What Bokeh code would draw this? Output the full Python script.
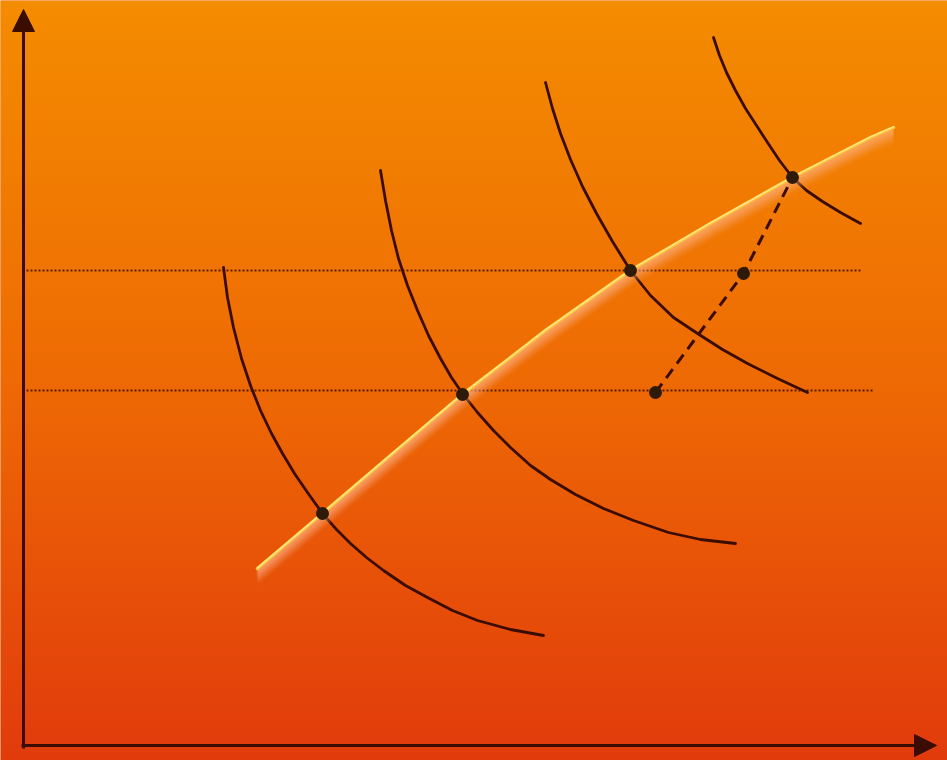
from bokeh.plotting import figure
from bokeh.models import Range1d, Arrow, NormalHead
from bokeh.embed import file_html
from bokeh.resources import INLINE

# ---- data (image units: x right, y down) ----
curve1_x = [223, 227, 233, 241, 250, 260, 271, 282, 294, 307, 322, 336, 350, 366, 383, 405, 427, 452, 477, 510, 543]
curve1_y = [267, 297, 327, 358, 385, 410, 433, 453, 473, 492, 513, 529, 543, 557, 570, 585, 597, 610, 620, 629, 635]
curve2_x = [380, 385, 391, 398, 407, 417, 428, 440, 451, 462, 477, 493, 510, 530, 550, 575, 603, 633, 668, 700, 735]
curve2_y = [170, 200, 230, 258, 285, 310, 335, 358, 377, 393, 412, 430, 447, 465, 479, 494, 508, 520, 532, 539, 543]
curve3_x = [545, 552, 560, 570, 582, 596, 612, 630, 650, 673, 697, 722, 747, 777, 807]
curve3_y = [82, 108, 133, 159, 186, 213, 241, 270, 295, 317, 333, 349, 363, 378, 392]
curve4_x = [713, 719, 726, 735, 745, 756, 767, 779, 792, 806, 822, 840, 860]
curve4_y = [37, 55, 72, 90, 108, 125, 142, 160, 177, 190, 201, 212, 223]
path_x = [257, 322, 390, 462, 545, 630, 710, 792, 870, 893]
path_y = [568, 513, 455, 394, 330, 270, 223, 177, 137, 127]
dash_x = [655, 743, 792]
dash_y = [392, 273, 177]
dot_x = [322, 462, 630, 792, 743, 655]
dot_y = [513, 394, 270, 177, 273, 392]
hline_y = [270, 390]
hline_x0 = [22, 22]
hline_x1 = [862, 872]

W, H = 947, 760

p = figure(width=947, height=760, x_range=Range1d(0, W), y_range=Range1d(H, 0),
           output_backend="svg", toolbar_location=None, min_border=0)
p.axis.visible = False
p.grid.visible = False
p.outline_line_color = None
p.background_fill_color = "#EC6404"
p.border_fill_color = "#EC6404"

# gradient background
stops = [(0.0, (0xF4, 0x8C, 0x00)), (0.5, (0xEE, 0x6A, 0x04)), (1.0, (0xE1, 0x3A, 0x0C))]
def col(t):
    for (t0, c0), (t1, c1) in zip(stops[:-1], stops[1:]):
        if t <= t1:
            f = (t - t0) / (t1 - t0)
            return "#%02x%02x%02x" % tuple(int(round(a + (b - a) * f)) for a, b in zip(c0, c1))
    return "#%02x%02x%02x" % stops[-1][1]
N = 95
tops = [H * i / N for i in range(N)]
bots = [H * (i + 1) / N + 0.5 for i in range(N)]
cols = [col((i + 0.5) / N) for i in range(N)]
p.quad(left=0, right=W, top=tops, bottom=bots, fill_color=cols, line_color=None)

dark = "#3a0c02"

# dotted horizontals
p.segment(x0=hline_x0, y0=hline_y, x1=hline_x1, y1=hline_y,
          line_color="#5a1800", line_width=2.2, line_dash="2 2")

# curves
for xs, ys in [(curve1_x, curve1_y), (curve2_x, curve2_y), (curve3_x, curve3_y), (curve4_x, curve4_y)]:
    p.line(xs, ys, line_color=dark, line_width=2.8, line_join="round", line_cap="round")

# glowing expansion path (soft glow below the line)
for k in range(8):
    off = 2 + 2 * k
    a = 0.38 * (1 - k / 8) ** 1.3
    p.line(path_x, [y + off for y in path_y], line_color="#ffb88e", line_width=4,
           line_alpha=a, line_join="round", line_cap="butt")
p.line(path_x, path_y, line_color="#ffc23a", line_width=3.5, line_join="round", line_cap="round")
p.line(path_x, [y - 0.6 for y in path_y], line_color="#ffe88a", line_width=1.4,
       line_join="round", line_cap="round")

# dashed line
p.line(dash_x, dash_y, line_color=dark, line_width=3, line_dash="11 7")

# dots
p.scatter(dot_x, dot_y, size=13, fill_color="#2e1a08", line_color=None)

# axes with arrowheads
p.add_layout(Arrow(x_start=23, y_start=748, x_end=23, y_end=9,
                   line_color=dark, line_width=3,
                   end=NormalHead(size=22, fill_color=dark, line_color=dark)))
p.add_layout(Arrow(x_start=21, y_start=745, x_end=936, y_end=745,
                   line_color=dark, line_width=3,
                   end=NormalHead(size=22, fill_color=dark, line_color=dark)))

open("out.html", "w").write(file_html(p, INLINE))
